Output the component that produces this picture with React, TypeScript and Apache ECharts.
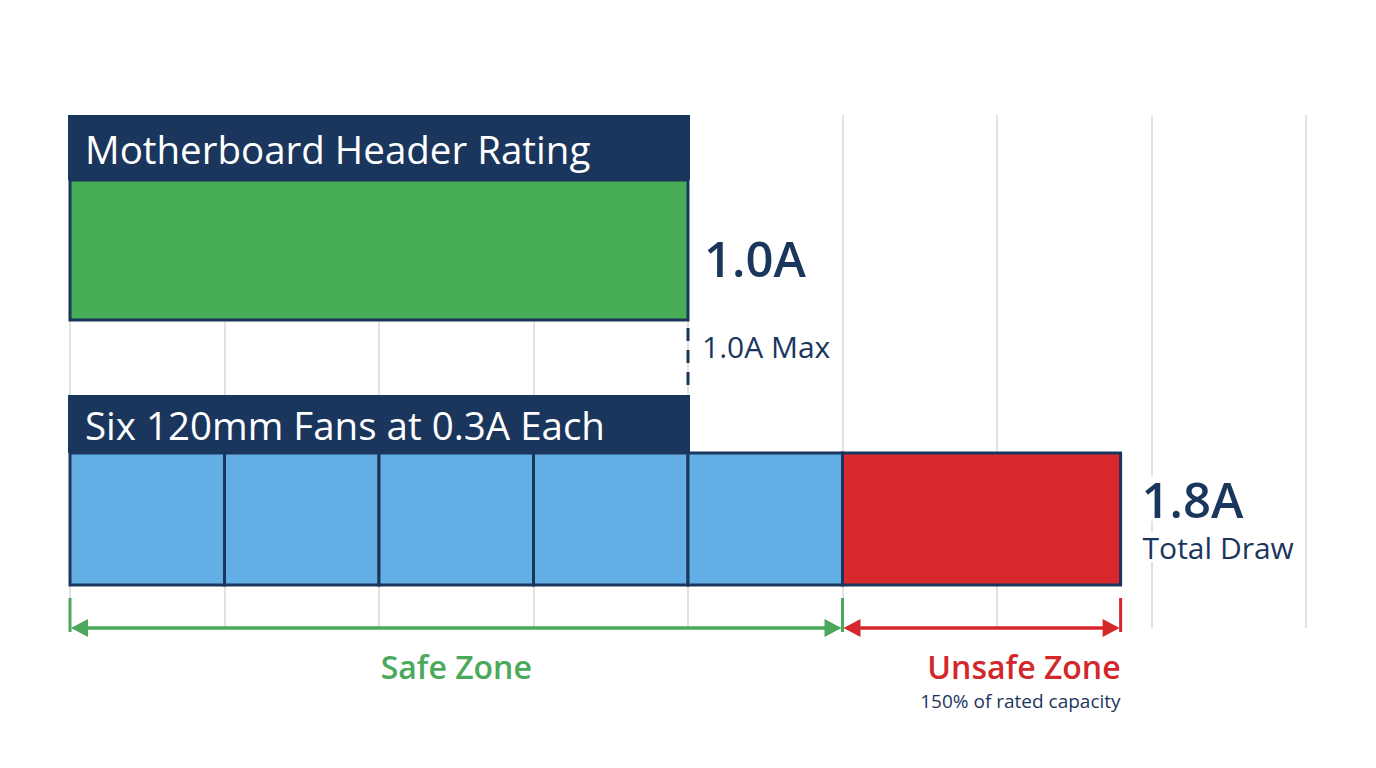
import React, { useEffect, useRef } from "react";
import * as echarts from "echarts";

// ---- data (amps) ----
const axisMinAmps = 0;
const axisMaxAmps = 2.0;
const gridStepAmps = 0.25;
const headerRatingAmps = [1.0];
const safeFanSegments: [number, number][] = [
  [0, 0.25],
  [0.25, 0.5],
  [0.5, 0.75],
  [0.75, 1.0],
  [1.0, 1.25],
];
const unsafeFanSegments: [number, number][] = [[1.25, 1.7]];
const zoneRanges: [number, number][] = [
  [0, 1.25],
  [1.25, 1.7],
];
const zoneNames = ["Safe Zone", "Unsafe Zone"];
const zoneNotes = ["", "150% of rated capacity"];
const rowTitles = ["Motherboard Header Rating", "Six 120mm Fans at 0.3A Each"];
const ratingLabels = ["1.0A", "1.0A Max"];
const totalLabels = ["1.8A", "Total Draw"];

// ---- styles ----
const NAVY = "#1b365d";
const GREEN = "#47ae57";
const BLUE = "#63aee5";
const RED = "#d9282d";
const ZONE_GREEN = "#4aa95a";
const ZONE_RED = "#d3272c";
const FONT = "'Open Sans', 'Noto Sans', sans-serif";

// ---- layout (px) ----
const LY = {
  gridTop: 115,
  gridBottom: 140,
  hdr1Top: 115,
  hdr1Bot: 180,
  bar1Bot: 320,
  dashTop: 328,
  dashBot: 388,
  hdr2Top: 395,
  hdr2Bot: 453,
  bar2Bot: 585,
  bracketY: 628,
  tickTop: 598,
  tickBot: 632,
  zoneTextY: 666,
  noteY: 701,
};

const xOf = (api: any, v: number) => api.coord([v, 0])[0];

export default function App() {
  const ref = useRef<HTMLDivElement>(null);
  useEffect(() => {
    if (!ref.current) return;
    const chart = echarts.init(ref.current, undefined, { renderer: "svg" });
    const option: any = {
      animation: false,
      backgroundColor: "#ffffff",
      grid: { left: 70, right: 70, top: LY.gridTop, bottom: LY.gridBottom },
      xAxis: {
        type: "value",
        min: axisMinAmps,
        max: axisMaxAmps,
        interval: gridStepAmps,
        axisLabel: { show: false },
        axisLine: { show: false },
        axisTick: { show: false },
        splitLine: { show: true, showMinLine: true, showMaxLine: true, lineStyle: { color: "#d9d9d9", width: 1.5 } },
      },
      yAxis: { type: "value", min: 0, max: 1, show: false, splitLine: { show: false } },
      series: [
        {
          name: "header rating",
          type: "custom",
          clip: false,
          data: headerRatingAmps.map((v) => [0, v]),
          renderItem: (params: any, api: any) => {
            const x0 = xOf(api, api.value(0));
            const x1 = xOf(api, api.value(1));
            return {
              type: "group",
              children: [
                { type: "rect", shape: { x: x0 - 2, y: LY.hdr1Top, width: x1 - x0 + 4, height: LY.hdr1Bot - LY.hdr1Top }, style: { fill: NAVY } },
                { type: "rect", shape: { x: x0, y: LY.hdr1Bot, width: x1 - x0, height: LY.bar1Bot - LY.hdr1Bot }, style: { fill: GREEN, stroke: NAVY, lineWidth: 3 } },
                { type: "text", style: { text: rowTitles[0], x: x0 + 15, y: (LY.hdr1Top + LY.hdr1Bot) / 2 + 1, fill: "#ffffff", fontSize: 38.5, fontFamily: FONT, align: "left", verticalAlign: "middle" } },
                { type: "text", style: { text: ratingLabels[0], x: x1 + 16, y: 258, fill: NAVY, fontSize: 49, fontWeight: 600, fontFamily: FONT, align: "left", verticalAlign: "middle" } },
                { type: "line", shape: { x1: x1, y1: LY.dashTop, x2: x1, y2: LY.dashBot }, style: { stroke: NAVY, lineWidth: 3, lineDash: [13, 9] } },
                { type: "text", style: { text: ratingLabels[1], x: x1 + 14, y: 346, fill: NAVY, fontSize: 30, fontFamily: FONT, align: "left", verticalAlign: "middle" } },
              ],
            };
          },
        },
        {
          name: "fans header",
          type: "custom",
          clip: false,
          data: headerRatingAmps.map((v) => [0, v]),
          renderItem: (params: any, api: any) => {
            const x0 = xOf(api, api.value(0));
            const x1 = xOf(api, api.value(1));
            return {
              type: "group",
              children: [
                { type: "rect", shape: { x: x0 - 2, y: LY.hdr2Top, width: x1 - x0 + 4, height: LY.hdr2Bot - LY.hdr2Top }, style: { fill: NAVY } },
                { type: "text", style: { text: rowTitles[1], x: x0 + 15, y: (LY.hdr2Top + LY.hdr2Bot) / 2 + 1, fill: "#ffffff", fontSize: 38.5, fontFamily: FONT, align: "left", verticalAlign: "middle" } },
              ],
            };
          },
        },
        {
          name: "safe fans",
          type: "custom",
          clip: false,
          data: safeFanSegments,
          renderItem: (params: any, api: any) => {
            const x0 = xOf(api, api.value(0));
            const x1 = xOf(api, api.value(1));
            return { type: "rect", shape: { x: x0, y: LY.hdr2Bot, width: x1 - x0, height: LY.bar2Bot - LY.hdr2Bot }, style: { fill: BLUE, stroke: NAVY, lineWidth: 3 } };
          },
        },
        {
          name: "unsafe fans",
          type: "custom",
          clip: false,
          data: unsafeFanSegments,
          renderItem: (params: any, api: any) => {
            const x0 = xOf(api, api.value(0));
            const x1 = xOf(api, api.value(1));
            return {
              type: "group",
              children: [
                { type: "rect", shape: { x: x0, y: LY.hdr2Bot, width: x1 - x0, height: LY.bar2Bot - LY.hdr2Bot }, style: { fill: RED, stroke: NAVY, lineWidth: 3 } },
                { type: "text", style: { text: totalLabels[0], x: x1 + 21, y: 499, fill: NAVY, fontSize: 49, fontWeight: 600, lineHeight: 44, fontFamily: FONT, align: "left", verticalAlign: "middle", backgroundColor: "#ffffff" } },
                { type: "text", style: { text: totalLabels[1], x: x1 + 22, y: 547, fill: NAVY, fontSize: 30, lineHeight: 30, fontFamily: FONT, align: "left", verticalAlign: "middle", backgroundColor: "#ffffff" } },
              ],
            };
          },
        },
        {
          name: "zones",
          type: "custom",
          clip: false,
          data: zoneRanges,
          renderItem: (params: any, api: any) => {
            const i = params.dataIndex;
            const x0 = xOf(api, api.value(0));
            const x1 = xOf(api, api.value(1));
            const c = i === 0 ? ZONE_GREEN : ZONE_RED;
            const y = LY.bracketY;
            const ah = 18;
            const aw = 9;
            const children: any[] = [
              { type: "line", shape: { x1: x0 + 6, y1: y, x2: x1 - 6, y2: y }, style: { stroke: c, lineWidth: 3.5 } },
              { type: "polygon", shape: { points: [[x0 + 1, y], [x0 + ah, y - aw], [x0 + ah, y + aw]] }, style: { fill: c } },
              { type: "polygon", shape: { points: [[x1 - 1, y], [x1 - ah, y - aw], [x1 - ah, y + aw]] }, style: { fill: c } },
              { type: "line", shape: { x1: x1, y1: LY.tickTop, x2: x1, y2: LY.tickBot }, style: { stroke: c, lineWidth: 3 } },
            ];
            if (i === 0) {
              children.push({ type: "line", shape: { x1: x0, y1: LY.tickTop, x2: x0, y2: LY.tickBot }, style: { stroke: c, lineWidth: 3 } });
              children.push({ type: "text", style: { text: zoneNames[i], x: (x0 + x1) / 2, y: LY.zoneTextY, fill: c, fontSize: 32, fontWeight: 600, fontFamily: FONT, align: "center", verticalAlign: "middle" } });
            } else {
              children.push({ type: "text", style: { text: zoneNames[i], x: x1, y: LY.zoneTextY, fill: c, fontSize: 32, fontWeight: 600, fontFamily: FONT, align: "right", verticalAlign: "middle" } });
              children.push({ type: "text", style: { text: zoneNotes[i], x: x1, y: LY.noteY, fill: NAVY, fontSize: 19, fontFamily: FONT, align: "right", verticalAlign: "middle" } });
            }
            return { type: "group", children };
          },
        },
      ],
    };
    chart.setOption(option);
    return () => chart.dispose();
  }, []);
  return <div ref={ref} style={{ position: "absolute", left: 0, top: 0, width: 1376, height: 768 }} />;
}
